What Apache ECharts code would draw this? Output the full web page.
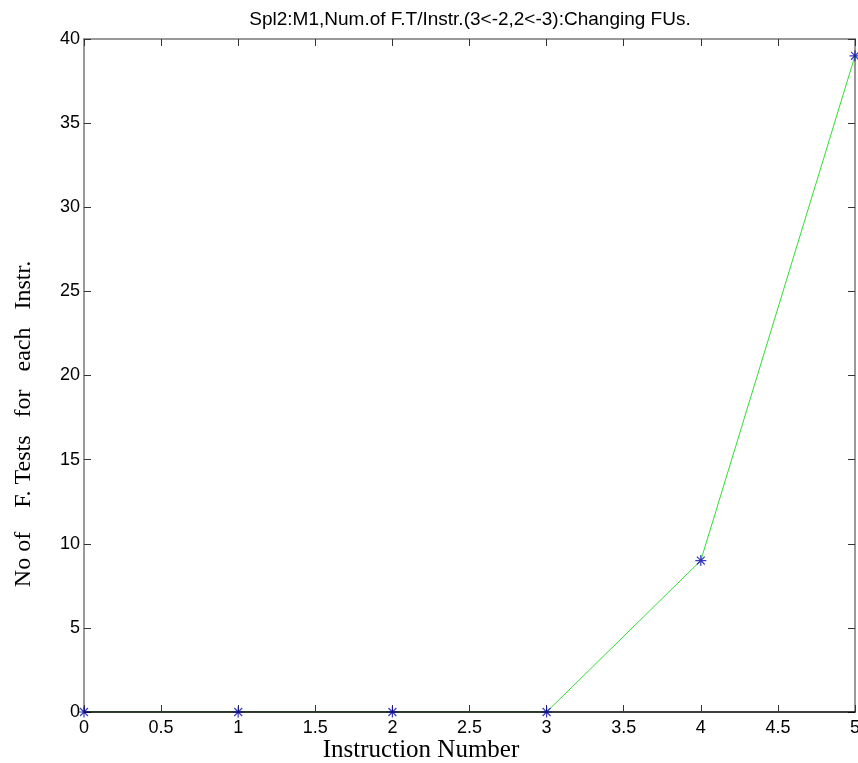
<!DOCTYPE html>
<html>
<head>
<meta charset="utf-8">
<script src="https://cdn.jsdelivr.net/npm/echarts@6/dist/echarts.min.js"></script>
<style>html,body{margin:0;padding:0;background:#fff;}#c{width:858px;height:763px;}</style>
</head>
<body>
<div id="c"></div>
<script>
const titleText = 'Spl2:M1,Num.of F.T/Instr.(3<-2,2<-3):Changing FUs.';
const xName = 'Instruction Number';
const yName = 'No of    F. Tests   for   each   Instr.';
const xValues = [0, 1, 2, 3, 4, 5];
const yValues = [0, 0, 0, 0, 9, 39];

const pts = xValues.map((x, i) => [x, yValues[i]]);
const star = 'path://M0,-5L0,5M-5,0L5,0M-3.6,-3.6L3.6,3.6M-3.6,3.6L3.6,-3.6';

const chart = echarts.init(document.getElementById('c'));
const tickFont = { fontFamily: 'Liberation Sans, Arial', fontSize: 18, color: '#000' };
const tick = { show: true, inside: true, length: 7, lineStyle: { color: '#333' } };
chart.setOption({
  animation: false,
  backgroundColor: '#fff',
  title: {
    text: titleText, left: 465, top: 5, textAlign: 'center',
    textStyle: { fontFamily: 'Liberation Sans, Arial', fontSize: 19, fontWeight: 'normal', color: '#000' }
  },
  grid: { left: 84, right: 3, top: 39, bottom: 51, containLabel: false, outerBoundsMode: 'none' },
  xAxis: [{
    type: 'value', min: 0, max: 5, interval: 0.5, z: 3,
    axisLine: { show: true, onZero: false, lineStyle: { color: '#000', width: 1.5 } },
    axisTick: tick,
    axisLabel: Object.assign({ margin: 7 }, tickFont),
    splitLine: { show: false }
  }, {
    type: 'value', min: 0, max: 5, interval: 0.5, position: 'top',
    axisLine: { show: true, onZero: false, lineStyle: { color: '#777', width: 1.5 } },
    axisTick: tick,
    axisLabel: { show: false }, splitLine: { show: false }
  }],
  yAxis: [{
    type: 'value', min: 0, max: 40, interval: 5,
    axisLine: { show: true, onZero: false, lineStyle: { color: '#777', width: 1.5 } },
    axisTick: tick,
    axisLabel: Object.assign({ margin: 4 }, tickFont),
    splitLine: { show: false }
  }, {
    type: 'value', min: 0, max: 40, interval: 5, position: 'right',
    axisLine: { show: true, onZero: false, lineStyle: { color: '#777', width: 1.5 } },
    axisTick: tick,
    axisLabel: { show: false }, splitLine: { show: false }
  }],
  graphic: [{
    type: 'text', x: 421, y: 750,
    style: { text: xName, fontFamily: 'Liberation Serif, Times New Roman', fontSize: 25, fill: '#000', align: 'center', verticalAlign: 'middle' }
  }, {
    type: 'text', x: 24, y: 424, rotation: Math.PI / 2,
    style: { text: yName, fontFamily: 'Liberation Serif, Times New Roman', fontSize: 24, fill: '#000', align: 'center', verticalAlign: 'middle' }
  }],
  series: [{
    type: 'line', data: pts, z: 2, showSymbol: false, symbol: 'none',
    lineStyle: { color: '#33dd33', width: 1 }
  }, {
    type: 'scatter', data: pts, z: 5, symbol: star, symbolSize: 11,
    itemStyle: { color: 'none', borderColor: '#0a0ab0', borderWidth: 1.2 }
  }]
});
</script>
</body>
</html>
